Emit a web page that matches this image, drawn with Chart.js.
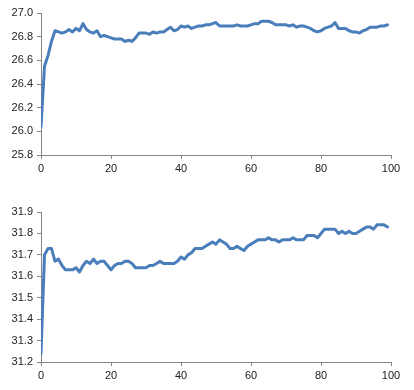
<!DOCTYPE html>
<html>
<head>
<meta charset="utf-8">
<script src="https://cdn.jsdelivr.net/npm/chart.js@4"></script>
<style>
  body { margin: 0; background: #fff; }
  .box { position: absolute; left: 0; width: 414px; height: 195px; }
</style>
</head>
<body>
<div class="box" style="top:0"><canvas id="top_canvas" width="414" height="195"></canvas></div>
<div class="box" style="top:195px"><canvas id="bottom_canvas" width="414" height="195"></canvas></div>
<script>
// step numbers along the x axis
const steps = [
   0,  1,  2,  3,  4,  5,  6,  7,  8,  9, 10, 11, 12, 13, 14, 15, 16, 17, 18, 19,
  20, 21, 22, 23, 24, 25, 26, 27, 28, 29, 30, 31, 32, 33, 34, 35, 36, 37, 38, 39,
  40, 41, 42, 43, 44, 45, 46, 47, 48, 49, 50, 51, 52, 53, 54, 55, 56, 57, 58, 59,
  60, 61, 62, 63, 64, 65, 66, 67, 68, 69, 70, 71, 72, 73, 74, 75, 76, 77, 78, 79,
  80, 81, 82, 83, 84, 85, 86, 87, 88, 89, 90, 91, 92, 93, 94, 95, 96, 97, 98, 99
];

// upper series
const top_values = [
  26.04, 26.55, 26.64, 26.76, 26.85, 26.84, 26.83, 26.84, 26.86, 26.84,
  26.87, 26.85, 26.91, 26.86, 26.84, 26.83, 26.85, 26.80, 26.81, 26.80,
  26.79, 26.78, 26.78, 26.78, 26.76, 26.77, 26.76, 26.79, 26.83, 26.83,
  26.83, 26.82, 26.84, 26.83, 26.84, 26.84, 26.86, 26.88, 26.85, 26.86,
  26.89, 26.88, 26.89, 26.87, 26.88, 26.89, 26.89, 26.90, 26.90, 26.91,
  26.92, 26.89, 26.89, 26.89, 26.89, 26.89, 26.90, 26.89, 26.89, 26.89,
  26.90, 26.91, 26.91, 26.93, 26.93, 26.93, 26.92, 26.90, 26.90, 26.90,
  26.90, 26.89, 26.90, 26.88, 26.89, 26.89, 26.88, 26.87, 26.85, 26.84,
  26.85, 26.87, 26.88, 26.89, 26.92, 26.87, 26.87, 26.87, 26.85, 26.84,
  26.84, 26.83, 26.85, 26.86, 26.88, 26.88, 26.88, 26.89, 26.89, 26.90
];

// lower series
const bottom_values = [
  31.24, 31.70, 31.73, 31.73, 31.67, 31.68, 31.65, 31.63, 31.63, 31.63,
  31.64, 31.62, 31.65, 31.67, 31.66, 31.68, 31.66, 31.67, 31.67, 31.65,
  31.63, 31.65, 31.66, 31.66, 31.67, 31.67, 31.66, 31.64, 31.64, 31.64,
  31.64, 31.65, 31.65, 31.66, 31.67, 31.66, 31.66, 31.66, 31.66, 31.67,
  31.69, 31.68, 31.70, 31.71, 31.73, 31.73, 31.73, 31.74, 31.75, 31.76,
  31.75, 31.77, 31.76, 31.75, 31.73, 31.73, 31.74, 31.73, 31.72, 31.74,
  31.75, 31.76, 31.77, 31.77, 31.77, 31.78, 31.77, 31.77, 31.76, 31.77,
  31.77, 31.77, 31.78, 31.77, 31.77, 31.77, 31.79, 31.79, 31.79, 31.78,
  31.80, 31.82, 31.82, 31.82, 31.82, 31.80, 31.81, 31.80, 31.81, 31.80,
  31.80, 31.81, 31.82, 31.83, 31.83, 31.82, 31.84, 31.84, 31.84, 31.83
];

const axis_grey = '#868686';
const text_colour = '#222';

function make_line_chart(canvas_id, values, y_min, y_max, y_step, pad_top, x_height) {
    let context = document.getElementById(canvas_id).getContext('2d');
    let points = steps.map((s, i) => ({ x: s, y: values[i] }));

    return new Chart(context, {
        type: 'line',
        data: {
            datasets: [{
                data: points,
                borderColor: '#4A7EBB',
                borderWidth: 3,
                borderJoinStyle: 'round',
                borderCapStyle: 'round',
                pointRadius: 0,
                tension: 0,
                fill: false
            }]
        },
        options: {
            responsive: false,
            animation: false,
            layout: { padding: { top: pad_top, right: 23, left: 0, bottom: 0 } },
            plugins: { legend: { display: false }, tooltip: { enabled: false } },
            scales: {
                x: {
                    type: 'linear',
                    min: 0,
                    max: 100,
                    ticks: {
                        stepSize: 20,
                        color: text_colour,
                        font: { family: 'Liberation Sans', size: 11 },
                        padding: 3,
                        maxRotation: 0
                    },
                    grid: { drawOnChartArea: false, color: axis_grey, tickLength: 4 },
                    border: { color: axis_grey },
                    afterFit: function (scale) { scale.height = x_height; }
                },
                y: {
                    min: y_min,
                    max: y_max,
                    ticks: {
                        stepSize: y_step,
                        color: text_colour,
                        font: { family: 'Liberation Sans', size: 11 },
                        padding: 4,
                        callback: v => v.toFixed(1)
                    },
                    grid: { drawOnChartArea: false, color: axis_grey, tickLength: 4 },
                    border: { color: axis_grey },
                    afterFit: function (scale) { scale.width = 41; }
                }
            }
        }
    });
}

make_line_chart('top_canvas', top_values, 25.8, 27.0, 0.2, 13, 40);
make_line_chart('bottom_canvas', bottom_values, 31.2, 31.9, 0.1, 17, 28);
</script>
</body>
</html>
